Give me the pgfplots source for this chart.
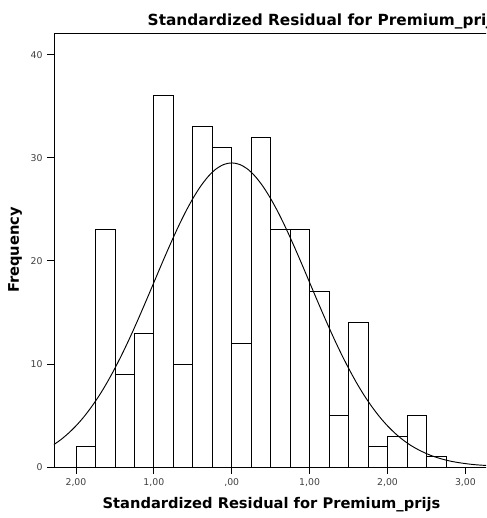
\documentclass[border=0pt]{standalone}
\usepackage{pgfplots}
\pgfplotsset{compat=1.18}
\usepackage{fontspec}
\setmainfont{DejaVu Sans}
\begin{document}
\begin{tikzpicture}
  % the reference is cut off at the right edge
  \useasboundingbox (0,0) rectangle (364.5pt,388.5pt);
  \begin{scope}
  \clip (0,0) rectangle (364.5pt,388.5pt);
  \begin{axis}[
    at={(40.5pt,38.25pt)}, anchor=south west,
    scale only axis, width=329pt, height=325.5pt,
    xmin=-2.282, xmax=3.35,
    ymin=0, ymax=42.1,
    axis line style={line width=0.6pt},
    tick align=outside, tick pos=left,
    major tick length=5pt,
    xtick={-2,-1,0,1,2,3},
    xticklabels={{2,00},{1,00},{,00},{1,00},{2,00},{3,00}},
    ytick={0,10,20,30,40},
    tick style={black, line width=0.6pt},
    tick label style={font=\fontsize{7}{8}\selectfont, text=black!75},
    /pgf/number format/assume math mode=true,
    ]

    % histogram, bins of 0.25
    \addplot[ybar interval, draw=black, fill=white, line width=0.6pt]
    coordinates {
      (-2.00,2)(-1.75,23)(-1.50,9)(-1.25,13)(-1.00,36)(-0.75,10)
      (-0.50,33)(-0.25,31)(0.00,12)(0.25,32)(0.50,23)(0.75,23)
      (1.00,17)(1.25,5)(1.50,14)(1.75,2)(2.00,3)(2.25,5)(2.50,1)(2.75,0)
    };

    % normal curve
    \addplot[smooth, black, line width=0.7pt]
    coordinates {
      (-2.3,2.09)(-2.2,2.62)(-2.1,3.25)(-2.0,3.99)(-1.9,4.85)(-1.8,5.84)
      (-1.7,6.95)(-1.6,8.20)(-1.5,9.58)(-1.4,11.07)(-1.3,12.67)(-1.2,14.36)
      (-1.1,16.11)(-1.0,17.89)(-0.9,19.68)(-0.8,21.42)(-0.7,23.09)(-0.6,24.64)
      (-0.5,26.03)(-0.4,27.23)(-0.3,28.20)(-0.2,28.92)(-0.1,29.35)(0,29.5)
      (0.1,29.35)(0.2,28.92)(0.3,28.20)(0.4,27.23)(0.5,26.03)(0.6,24.64)
      (0.7,23.09)(0.8,21.42)(0.9,19.68)(1.0,17.89)(1.1,16.11)(1.2,14.36)
      (1.3,12.67)(1.4,11.07)(1.5,9.58)(1.6,8.20)(1.7,6.95)(1.8,5.84)
      (1.9,4.85)(2.0,3.99)(2.1,3.25)(2.2,2.62)(2.3,2.09)(2.4,1.66)
      (2.5,1.30)(2.6,1.00)(2.7,0.77)(2.8,0.58)(2.9,0.44)(3.0,0.33)
      (3.1,0.24)(3.2,0.18)(3.3,0.13)(3.4,0.09)
    };
  \end{axis}
  \node[anchor=base west, font=\bfseries\fontsize{11.5}{13}\selectfont]
    at (107.25pt,369.4pt) {Standardized Residual for Premium\_prijs};
  \end{scope}
  \node[anchor=base, font=\bfseries\fontsize{11}{13}\selectfont]
    at (203.6pt,7.3pt) {Standardized Residual for Premium\_prijs};
  \node[rotate=90, font=\bfseries\fontsize{11}{13}\selectfont]
    at (11.25pt,201pt) {Frequency};
\end{tikzpicture}
\end{document}
